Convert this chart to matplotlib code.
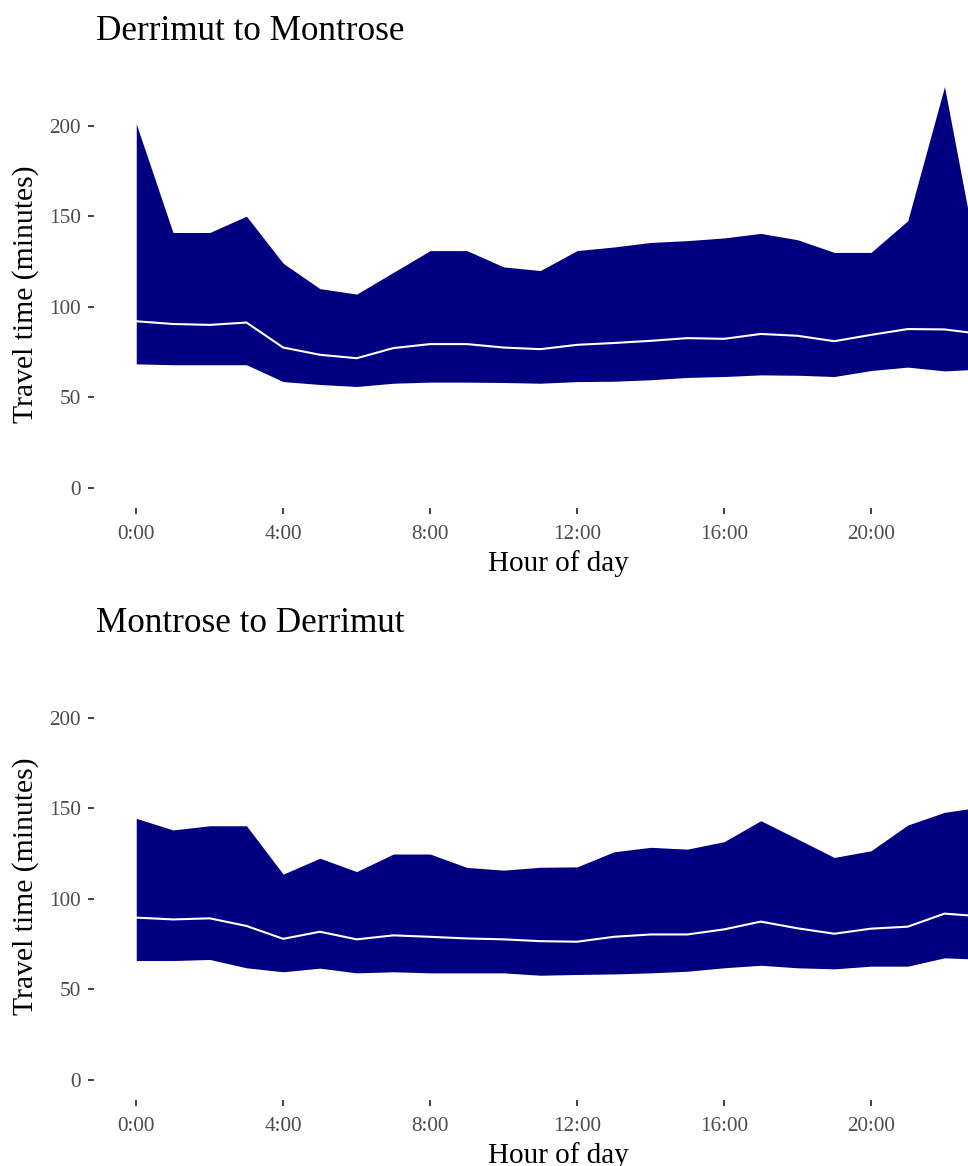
import matplotlib
matplotlib.use("Agg")
import matplotlib.pyplot as plt
import numpy as np

plt.rcParams['font.family'] = ['Liberation Serif', 'DejaVu Serif']

hours = np.arange(24)
tick_hours = [0, 4, 8, 12, 16, 20]
tick_labels = ["0:00", "4:00", "8:00", "12:00", "16:00", "20:00"]

# Derrimut -> Montrose
dm_upper = [201, 141, 141, 150, 124, 110, 107, 119, 131, 131, 122, 120,
            131, 133, 135.5, 136.5, 138, 140.5, 137, 130, 130, 147.5, 221.5, 115]
dm_median = [92, 90.5, 90, 91.3, 77.5, 73.5, 71.6, 77.2, 79.4, 79.4, 77.5, 76.6,
             79, 80, 81.2, 82.7, 82.3, 85, 84, 81, 84.5, 87.7, 87.5, 85]
dm_lower = [68.5, 68, 68, 68, 58.7, 57.1, 56, 57.8, 58.4, 58.4, 58.2, 57.8,
            58.7, 58.9, 59.7, 61, 61.5, 62.4, 62.2, 61.5, 64.8, 66.7, 64.6, 65.6]

# Montrose -> Derrimut
md_upper = [144.4, 138, 140.3, 140.3, 113.6, 122.4, 115, 124.7, 124.7, 117.3, 115.8, 117.4,
            117.6, 125.9, 128.4, 127.4, 131.5, 143.1, 133, 122.8, 126.5, 140.7, 147.7, 150.7]
md_median = [89.6, 88.6, 89.2, 85, 77.9, 81.8, 77.6, 79.8, 79, 78.1, 77.6, 76.6,
             76.3, 79, 80.3, 80.3, 83.1, 87.4, 83.7, 80.7, 83.5, 84.6, 91.8, 90.3]
md_lower = [65.9, 65.9, 66.5, 61.9, 59.7, 61.7, 59.1, 59.7, 59.1, 59.1, 59.1, 57.8,
            58.2, 58.5, 59.1, 60, 61.9, 63.3, 61.9, 61.3, 62.8, 62.8, 67.4, 66.6]

panels = [
    ("Derrimut to Montrose", dm_lower, dm_median, dm_upper),
    ("Montrose to Derrimut", md_lower, md_median, md_upper),
]

W, H = 968, 1166
fig = plt.figure(figsize=(W / 100, H / 100), dpi=100)

ymax = max(max(dm_upper), max(md_upper))
pad = 0.05 * ymax

for i, (title, lo, med, up) in enumerate(panels):
    off = i * 592
    bottom_px = 508 + off
    top_px = 66.6 + off
    ax = fig.add_axes([94 / W, 1 - bottom_px / H, (W - 94) / W, (bottom_px - top_px) / H])
    ax.fill_between(hours, lo, up, color="#000080", linewidth=0)
    ax.plot(hours, med, color="white", linewidth=1.5)
    ax.set_xlim(-1.15, 22.64)
    ax.set_ylim(-pad, ymax + pad)
    ax.set_xticks(tick_hours)
    ax.set_xticklabels(tick_labels)
    ax.set_yticks([0, 50, 100, 150, 200])
    for s in ax.spines.values():
        s.set_visible(False)
    ax.tick_params(length=4.5, width=1.3, color="#333333", labelcolor="#4D4D4D",
                   labelsize=15.3)
    ax.tick_params(axis="x", pad=8)
    ax.tick_params(axis="y", pad=5)
    ax.set_xlabel("Hour of day", fontsize=21, labelpad=4)
    ax.set_ylabel("Travel time (minutes)", fontsize=21.3, labelpad=7)
    # panel is wider than the visible crop, so titles centre on the full panel
    ax.xaxis.label.set_x(0.531)
    ax.yaxis.label.set_y(0.485)
    fig.text(96 / W, 1 - (39.5 + off) / H, title, fontsize=25.3, va="baseline", ha="left")

fig.savefig("out.png", dpi=100)
